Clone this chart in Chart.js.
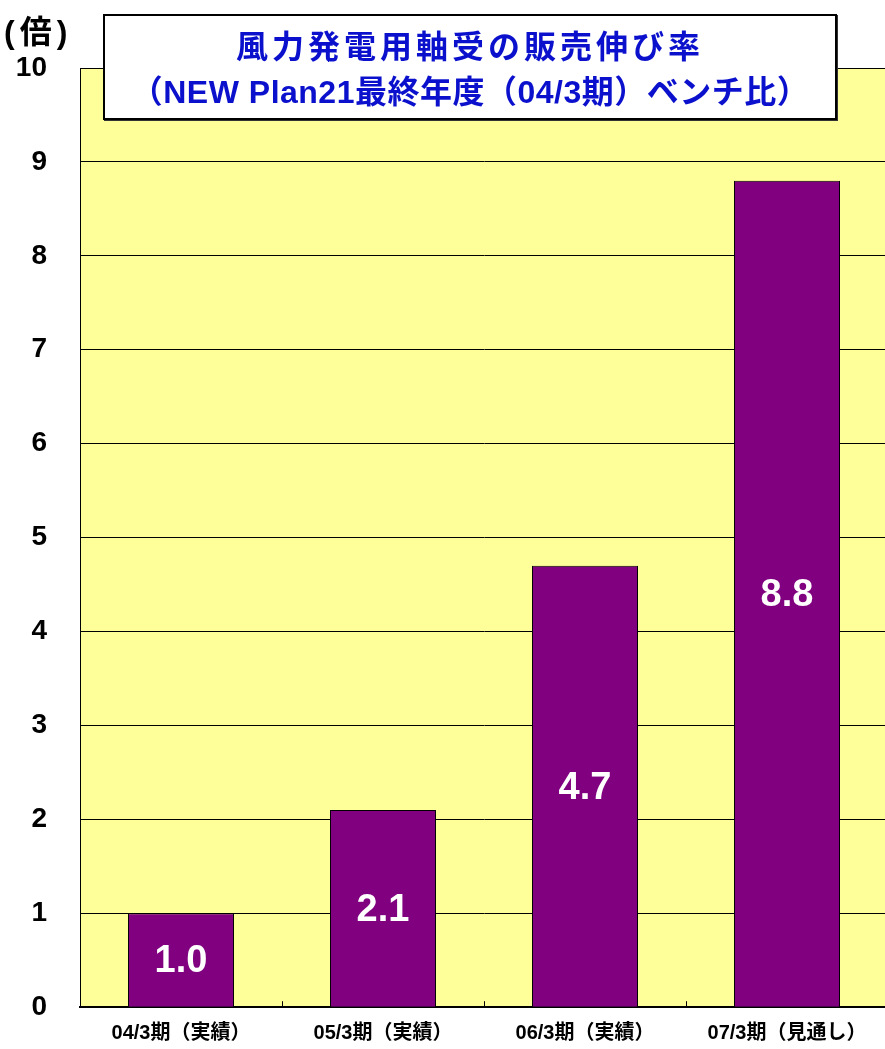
<!DOCTYPE html>
<html lang="ja">
<head>
  <meta charset="UTF-8">
  <title>風力発電用軸受の販売伸び率</title>
  <script src="https://cdn.jsdelivr.net/npm/chart.js"></script>
  <style>
    html, body { margin: 0; padding: 0; background: #fff; overflow: hidden; }
    body { font-family: "Liberation Sans", "Noto Sans CJK JP", sans-serif; }
    #wrap { position: relative; width: 890px; height: 1057px; }
    #unit {
      position: absolute; left: 4px; top: 6px;
      font-size: 32px; font-weight: bold; letter-spacing: 5px; color: #000;
    }
    #titleBox {
      position: absolute; left: 103px; top: 14px; width: 730px; height: 102px;
      background: #fff; border: 2px solid #000; box-shadow: 1px 1px 0 #333;
      display: flex; flex-direction: column; justify-content: center; align-items: center;
      color: #0a10cc; font-weight: bold; font-size: 32px; line-height: 45px;
    }
    #titleBox .l1 { letter-spacing: 4px; margin-top: 6px; }
    #titleBox .l2 { letter-spacing: 0.5px; }
  </style>
</head>
<body>
  <div id="wrap">
    <canvas id="growthChart" width="890" height="1057"></canvas>
    <div id="unit">(倍)</div>
    <div id="titleBox">
      <div class="l1">風力発電用軸受の販売伸び率</div>
      <div class="l2">（NEW Plan21最終年度（04/3期）ベンチ比）</div>
    </div>
  </div>

  <script>
    // data
    const periods = ["04/3期（実績）", "05/3期（実績）", "06/3期（実績）", "07/3期（見通し）"];
    const growthRatio = [1.0, 2.1, 4.7, 8.8];

    const FONT = '"Liberation Sans", "Noto Sans CJK JP", sans-serif';

    // light yellow plot background
    const plotBg = {
      id: 'plotBg',
      beforeDraw(chart) {
        const { ctx, chartArea: a } = chart;
        ctx.save();
        ctx.fillStyle = '#FFFF99';
        ctx.fillRect(a.left, a.top, a.right - a.left, a.bottom - a.top);
        ctx.restore();
      }
    };

    // small inward ticks between categories
    const xInnerTicks = {
      id: 'xInnerTicks',
      afterDraw(chart) {
        const { ctx, chartArea: a } = chart;
        const x = chart.scales.x;
        ctx.save();
        ctx.strokeStyle = '#000';
        ctx.lineWidth = 1;
        for (let i = 1; i < periods.length; i++) {
          const px = Math.round((x.getPixelForValue(i - 1) + x.getPixelForValue(i)) / 2) + 0.5;
          ctx.beginPath();
          ctx.moveTo(px, a.bottom);
          ctx.lineTo(px, a.bottom - 6);
          ctx.stroke();
        }
        ctx.restore();
      }
    };

    // value labels in the middle of each bar
    const barLabels = {
      id: 'barLabels',
      afterDatasetsDraw(chart) {
        const { ctx } = chart;
        const meta = chart.getDatasetMeta(0);
        ctx.save();
        ctx.fillStyle = '#fff';
        ctx.font = 'bold 38px ' + FONT;
        ctx.textAlign = 'center';
        ctx.textBaseline = 'middle';
        meta.data.forEach((bar, i) => {
          ctx.fillText(growthRatio[i].toFixed(1), bar.x, (bar.y + bar.base) / 2 + 2);
        });
        ctx.restore();
      }
    };

    new Chart(document.getElementById('growthChart'), {
      type: 'bar',
      data: {
        labels: periods,
        datasets: [{
          data: growthRatio,
          backgroundColor: '#800080',
          borderColor: '#000',
          borderWidth: 1,
          barPercentage: 0.525,
          categoryPercentage: 1.0
        }]
      },
      options: {
        responsive: false,
        animation: false,
        layout: { padding: { top: 68, right: 2, left: 0, bottom: 0 } },
        plugins: {
          legend: { display: false },
          tooltip: { enabled: false }
        },
        scales: {
          x: {
            grid: { drawOnChartArea: false, drawTicks: false },
            border: { display: true, color: '#000', width: 2 },
            ticks: {
              color: '#000',
              padding: 14,
              maxRotation: 0,
              font: { family: FONT, size: 20, weight: 'bold' }
            },
            afterFit(scale) { scale.height = 35; }
          },
          y: {
            min: 0,
            max: 10,
            ticks: {
              stepSize: 1,
              color: '#000',
              padding: 33,
              font: { family: FONT, size: 28, weight: 'bold' }
            },
            grid: { color: '#000', lineWidth: 1, drawTicks: false },
            border: { display: true, color: '#000', width: 1 },
            afterFit(scale) { scale.width = 80; }
          }
        }
      },
      plugins: [plotBg, xInnerTicks, barLabels]
    });
  </script>
</body>
</html>
